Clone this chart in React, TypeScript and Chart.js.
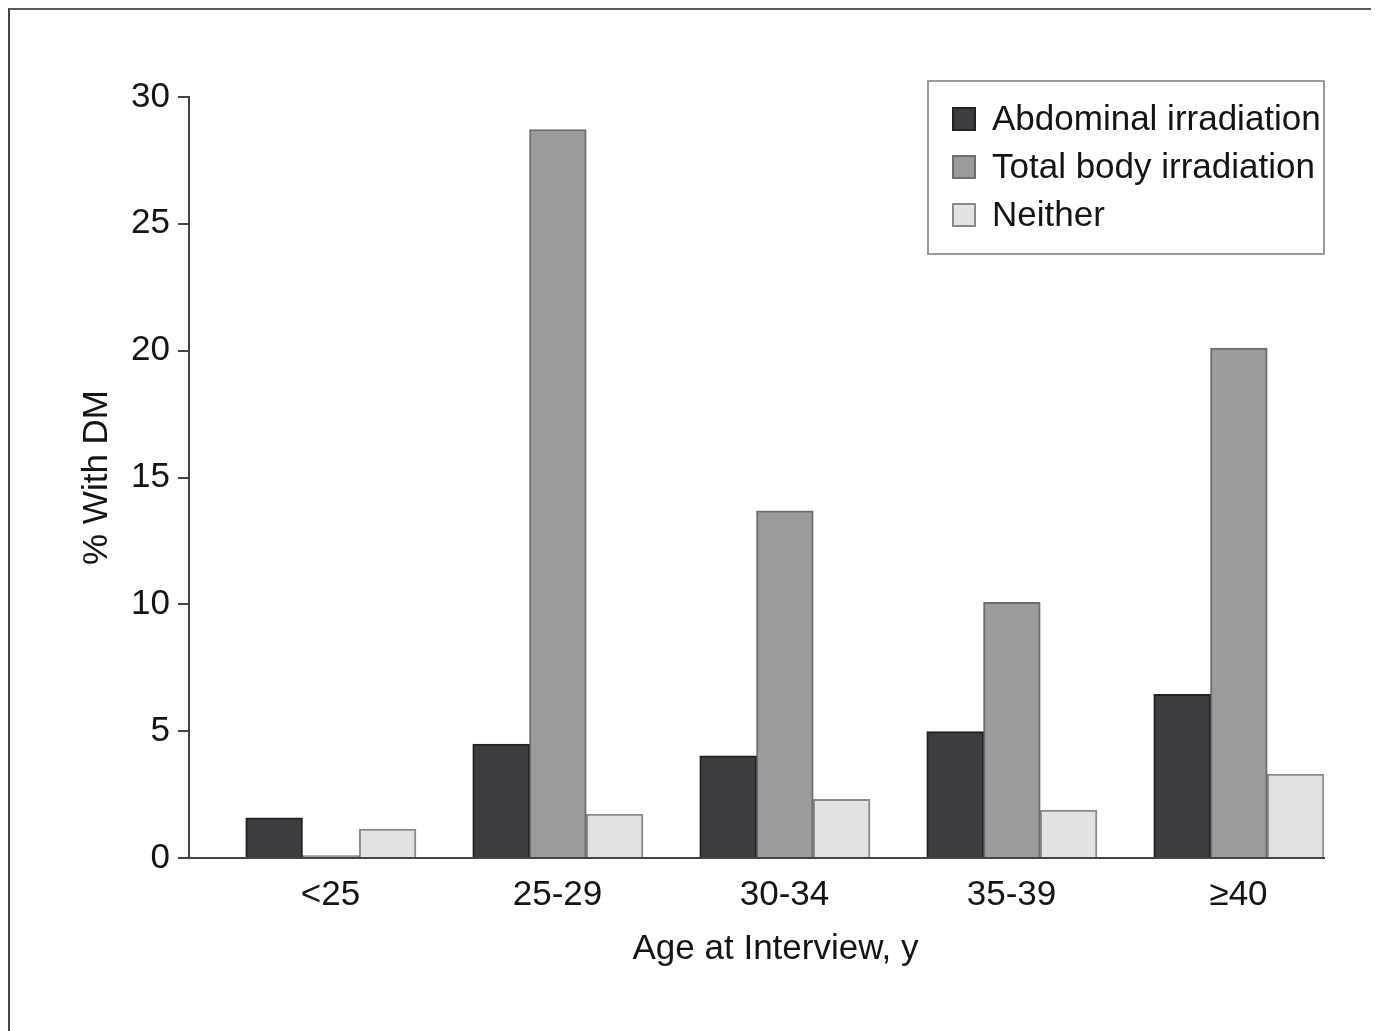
import React, { useEffect, useRef } from "react";
import { Chart, registerables } from "chart.js";

Chart.register(...registerables);

const categories = ["<25", "25-29", "30-34", "35-39", "\u226540"];
const seriesLabels = ["Abdominal irradiation", "Total body irradiation", "Neither"];
const abdominal = [1.58, 4.49, 4.03, 4.98, 6.45];
const totalBody = [0.1, 28.72, 13.69, 10.08, 20.1];
const neither = [1.14, 1.73, 2.31, 1.89, 3.31];
const spacer = [null, null, null, null, null];
const yTicks = [0, 5, 10, 15, 20, 25, 30];
const xTitle = "Age at Interview, y";
const yTitle = "% With DM";

const FONT = "'Liberation Sans', Arial, sans-serif";
const SIZE = 35;
const fills = ["#3c3d40", "#9a9b9d", "#e2e2e2"];
const borders = ["#222224", "#6e6e70", "#8a8a8a"];

const legendPlugin = {
  id: "boxedLegend",
  afterDraw(chart: any) {
    const { ctx, chartArea } = chart;
    const w = 396;
    const h = 173;
    const right = chartArea.right;
    const left = right - w;
    const top = chartArea.top - 16;
    ctx.save();
    ctx.strokeStyle = "#9a9a9a";
    ctx.lineWidth = 2;
    ctx.strokeRect(left, top, w, h);
    ctx.font = `${SIZE}px ${FONT}`;
    ctx.textBaseline = "middle";
    ctx.textAlign = "left";
    seriesLabels.forEach((label, i) => {
      const cy = top + 38 + i * 48;
      ctx.fillStyle = fills[i];
      ctx.fillRect(left + 24, cy - 12, 24, 24);
      ctx.strokeStyle = borders[i];
      ctx.lineWidth = 2;
      ctx.strokeRect(left + 25, cy - 11, 22, 22);
      ctx.fillStyle = "#141414";
      ctx.fillText(label, left + 64, cy + 1);
    });
    // x axis title
    ctx.font = `${SIZE}px ${FONT}`;
    ctx.textAlign = "center";
    ctx.fillStyle = "#141414";
    ctx.fillText(xTitle, (chartArea.left + chartArea.right) / 2 + 19, chartArea.bottom + 91);
    ctx.restore();
  },
};

export default function App() {
  const ref = useRef<HTMLCanvasElement | null>(null);

  useEffect(() => {
    document.documentElement.style.overflow = "hidden";
    const canvas = ref.current;
    if (!canvas) return;
    const mk = (data: (number | null)[], i: number, label: string) => ({
      label,
      data,
      backgroundColor: i < 0 ? "rgba(0,0,0,0)" : fills[i],
      borderColor: i < 0 ? "rgba(0,0,0,0)" : borders[i],
      borderWidth: i < 0 ? 0 : 2,
      categoryPercentage: 1,
      barPercentage: 1,
    });
    const chart = new Chart(canvas, {
      type: "bar",
      data: {
        labels: categories,
        datasets: [
          mk(spacer, -1, "spacer"),
          mk(abdominal, 0, seriesLabels[0]),
          mk(totalBody, 1, seriesLabels[1]),
          mk(neither, 2, seriesLabels[2]),
        ],
      },
      options: {
        responsive: false,
        animation: false,
        devicePixelRatio: 1,
        layout: { padding: { left: 0, top: 87, right: 66, bottom: 0 } },
        plugins: {
          legend: { display: false },
          tooltip: { enabled: false },
        },
        scales: {
          x: {
            type: "category",
            grid: { display: true, drawOnChartArea: false, drawTicks: false },
            border: { display: true, color: "#444", width: 2 },
            ticks: {
              color: "#141414",
              font: { family: FONT, size: SIZE },
              padding: 16,
              labelOffset: 28,
              maxRotation: 0,
            },
            afterFit: (s: any) => {
              s.height = 173;
            },
          },
          y: {
            min: 0,
            max: 30,
            afterBuildTicks: (s: any) => {
              s.ticks = yTicks.map((v) => ({ value: v }));
            },
            grid: {
              display: true,
              drawOnChartArea: false,
              drawTicks: true,
              tickLength: 11,
              color: "#444",
              lineWidth: 2,
            },
            border: { display: true, color: "#444", width: 2 },
            ticks: {
              color: "#141414",
              font: { family: FONT, size: SIZE },
              padding: 8,
            },
            title: {
              display: true,
              text: yTitle,
              color: "#141414",
              font: { family: FONT, size: SIZE },
              padding: { top: 66, bottom: 0 },
            },
            afterFit: (s: any) => {
              s.width = 179;
            },
          },
        },
      },
      plugins: [legendPlugin],
    });
    return () => chart.destroy();
  }, []);

  return (
    <div
      style={{
        width: 1380,
        height: 1021,
        borderTop: "2px solid #5a5a5a",
        borderLeft: "2px solid #444",
      }}
    >
      <canvas ref={ref} width={1380} height={1021} style={{ display: "block" }} />
    </div>
  );
}
